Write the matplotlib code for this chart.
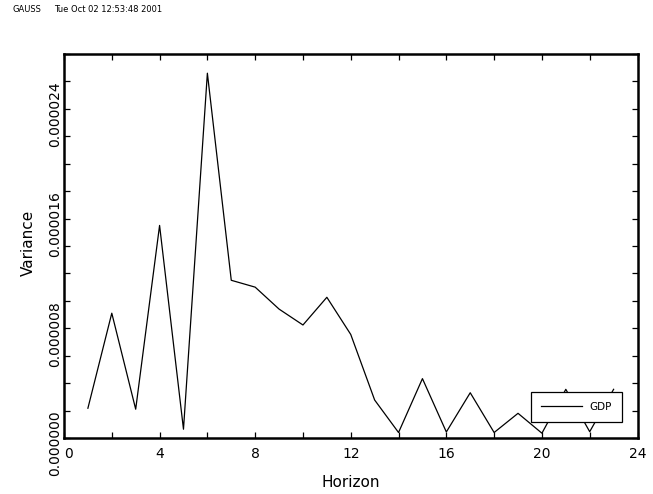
import matplotlib
matplotlib.use("Agg")
from matplotlib import pyplot as plt
from matplotlib.ticker import MultipleLocator, FormatStrFormatter

# Variance of GDP by horizon
horizon = [1, 2, 3, 4, 5, 6, 7, 8, 9, 10, 11, 12,
           13, 14, 15, 16, 17, 18, 19, 20, 21, 22, 23]
variance_e6 = [0.17, 7.1, 0.1, 13.5, -1.36, 24.6, 9.5, 9.0, 7.4, 6.24, 8.26, 5.55,
               0.77, -1.6, 2.33, -1.56, 1.3, -1.6, -0.2, -1.65, 1.55, -1.54, 1.55]
variance = [v * 1e-6 for v in variance_e6]

header_tag = "GAUSS"
header_stamp = "Tue Oct 02 12:53:48 2001"

W, H = 653, 494
fig = plt.figure(figsize=(W / 100, H / 100), dpi=100)
ax = fig.add_axes([64 / W, 1 - 438 / H, (637.5 - 64) / W, (438 - 54) / H])

ax.plot(horizon, variance, color="black", lw=0.9, label="GDP")

ax.set_xlim(0, 24)
ax.set_ylim(-2e-6, 26e-6)

ax.xaxis.set_major_locator(MultipleLocator(4))
ax.xaxis.set_minor_locator(MultipleLocator(2))
ax.yaxis.set_major_locator(MultipleLocator(8e-6))
ax.yaxis.set_minor_locator(MultipleLocator(2e-6))
ax.yaxis.set_major_formatter(FormatStrFormatter("%.6f"))

for which in ("major", "minor"):
    ax.tick_params(axis="both", which=which, direction="in", length=4.5, width=0.9,
                   top=True, right=True, color="black")
ax.tick_params(axis="x", which="major", labelsize=10, pad=6.5)
ax.tick_params(axis="y", which="major", labelsize=10, pad=1.5)

for sp in ax.spines.values():
    sp.set_linewidth(1.8)

# axis titles placed like the GAUSS output
fig.text(351 / W, 1 - 487 / H, "Horizon", fontsize=11, ha="center", va="baseline")
fig.text(33 / W, 1 - 243 / H, "Variance", fontsize=11, rotation=90,
         rotation_mode="anchor", ha="center", va="baseline")

leg = ax.legend(loc="lower right", bbox_to_anchor=(622 / W, 1 - 422 / H),
                bbox_transform=fig.transFigure, fancybox=False, framealpha=1,
                edgecolor="black", fontsize=7.5, handlelength=3.95,
                borderpad=0.95, handletextpad=0.7, borderaxespad=0)
leg.get_frame().set_linewidth(0.9)

fig.text(12 / W, 1 - 10 / H, header_tag, fontsize=6, va="center")
fig.text(54 / W, 1 - 10 / H, header_stamp, fontsize=6, va="center")

# ticks exist only after a draw
fig.canvas.draw()
for lab in ax.get_yticklabels():
    lab.set_rotation(90)
    lab.set_va("top")
# GAUSS puts the "0" on the x axis just right of the corner
for lab in ax.get_xticklabels():
    if lab.get_text() == "0":
        lab.set_ha("left")

fig.savefig("out.png", dpi=100)
